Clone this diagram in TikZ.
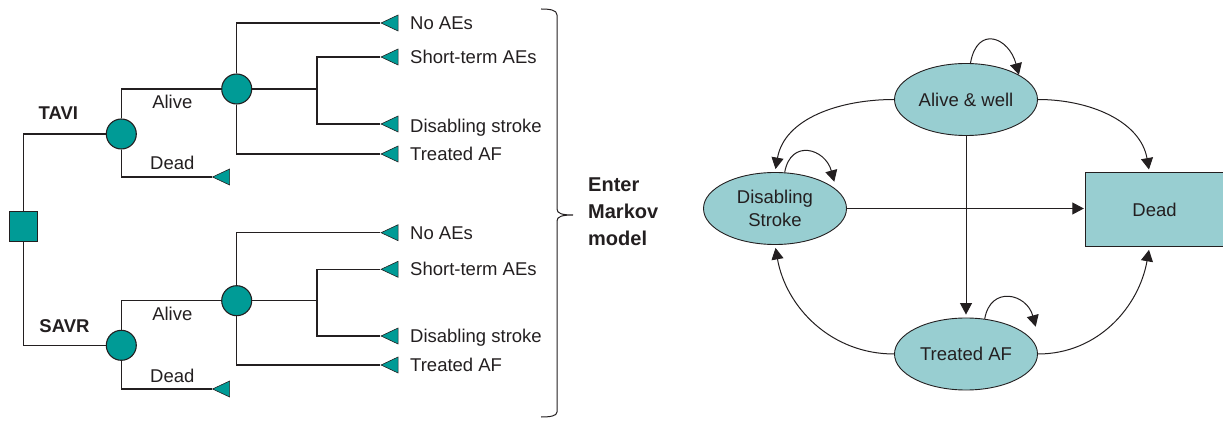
\documentclass[tikz,border=0pt]{standalone}
\usepackage{fontspec}
\setmainfont{Liberation Sans}
\usetikzlibrary{shapes.geometric,arrows.meta}
\definecolor{treeteal}{RGB}{0,155,150}
\definecolor{stfill}{RGB}{152,206,209}
\definecolor{ink}{RGB}{35,31,32}
\begin{document}
\begin{tikzpicture}[x=1pt,y=1pt,
  every node/.style={font=\fontsize{18.5}{22}\selectfont, text=ink},
  tline/.style={draw=ink, line width=1.1pt},
  chance/.style={circle, draw=ink, fill=treeteal, line width=1.1pt, minimum size=30pt, inner sep=0pt},
  decision/.style={rectangle, draw=ink, fill=treeteal, line width=1.1pt, minimum width=28pt, minimum height=30pt, inner sep=0pt},
  term/.style={isosceles triangle, shape border rotate=180, isosceles triangle stretches, minimum width=16pt, minimum height=17pt, inner sep=0pt, fill=treeteal, draw=ink, line width=0.6pt},
  lbl/.style={anchor=base west, inner sep=0pt},
  blbl/.style={anchor=base, inner sep=0pt},
  state/.style={ellipse, draw=ink, fill=stfill, line width=0.9pt, minimum width=143pt, minimum height=72pt, inner sep=0pt, align=center, font=\fontsize{18.5}{23.5}\selectfont},
  deadbox/.style={rectangle, fill=stfill, minimum width=137pt, minimum height=74pt, inner sep=0pt},
  arr/.style={draw=ink, line width=1pt, -{Triangle[length=11.5pt,width=12pt]}}
]
\useasboundingbox (0,0) rectangle (1223,423);

% ---------- decision tree ----------
\node[decision] (root) at (23.5,196.3) {};
\node[chance] (tavi) at (121.3,289) {};
\node[chance] (savr) at (121.3,77.7) {};
\node[chance] (ca) at (236.7,334) {};
\node[chance] (cb) at (236.7,122.3) {};
\node[term] (tdead) at (224.5,246) {};
\node[term] (sdead) at (224.5,34) {};
\node[term] (ta1) at (393,400) {};
\node[term] (ta2) at (393,366) {};
\node[term] (ta3) at (393,299) {};
\node[term] (ta4) at (393,269) {};
\node[term] (tb1) at (393,190.3) {};
\node[term] (tb2) at (393,153.7) {};
\node[term] (tb3) at (393,87) {};
\node[term] (tb4) at (393,58) {};
\coordinate (ja) at (317,334);
\coordinate (jb) at (317,122.3);

\draw[tline] (root) |- (tavi);
\draw[tline] (root) |- (savr);
\draw[tline] (tavi) |- (ca);
\draw[tline] (tavi) |- (tdead.apex);
\draw[tline] (savr) |- (cb);
\draw[tline] (savr) |- (sdead.apex);
\draw[tline] (ca) |- (ta1.apex);
\draw[tline] (ca) |- (ta4.apex);
\draw[tline] (ca) -- (ja);
\draw[tline] (ja) |- (ta2.apex);
\draw[tline] (ja) |- (ta3.apex);
\draw[tline] (cb) |- (tb1.apex);
\draw[tline] (cb) |- (tb4.apex);
\draw[tline] (cb) -- (jb);
\draw[tline] (jb) |- (tb2.apex);
\draw[tline] (jb) |- (tb3.apex);

\node[blbl, font=\fontsize{18.5}{22}\selectfont\bfseries] (ltavi) at (58.3,303.8) {TAVI};
\node[blbl, font=\fontsize{18.5}{22}\selectfont\bfseries] (lsavr) at (64.5,90.5) {SAVR};
\node[blbl] (la1) at (172.3,314.8) {Alive};
\node[blbl] (ld1) at (172.3,253.8) {Dead};
\node[blbl] (la2) at (172.3,102.2) {Alive};
\node[blbl] (ld2) at (172.3,40.8) {Dead};

\node[lbl] (lta1) at (410,393.5) {No AEs};
\node[lbl] (lta2) at (410,359.5) {Short-term AEs};
\node[lbl] (lta3) at (410,290.5) {Disabling stroke};
\node[lbl] (lta4) at (410,262.5) {Treated AF};
\node[lbl] (ltb1) at (410,183.8) {No AEs};
\node[lbl] (ltb2) at (410,147.2) {Short-term AEs};
\node[lbl] (ltb3) at (410,80.5) {Disabling stroke};
\node[lbl] (ltb4) at (410,51.5) {Treated AF};

% brace
\draw[draw=ink, line width=1pt] (541,414) .. controls (550,414) and (557,413) .. (557,408) -- (557,214)
  .. controls (557,209.5) and (562,208) .. (573,208)
  .. controls (562,208) and (557,206.5) .. (557,202) -- (557,11)
  .. controls (557,7) and (550,6) .. (541,6);
\node[anchor=west, align=left, inner sep=0pt, font=\fontsize{20}{27}\selectfont\bfseries] (enter) at (588,211.5) {Enter\\Markov\\model};

% ---------- Markov model ----------
\node[state] (aw) at (966,323.5) {Alive \& well};
\node[state] (ds) at (775,214.5) {Disabling\\Stroke};
\node[state] (ta) at (966,69) {Treated AF};
\node[deadbox] (dead) at (1154.5,213.3) {Dead};
\draw[draw=ink, line width=0.9pt] (dead.north east) -| (dead.south west) -- (dead.south east);

\draw[arr, shorten >=3pt] (aw.west) to[out=180,in=80] (ds.north);
\draw[arr, shorten >=3pt] (aw.east) to[out=0,in=100] ([xshift=-5pt]dead.north);
\draw[arr, shorten >=3pt] (aw.south) -- (ta.north);
\draw[arr, shorten >=2pt] (ds.east) -- (ds.east -| dead.west);
\draw[arr, shorten >=3pt] (ta.west) to[out=180,in=-80] (ds.south);
\draw[arr, shorten >=3pt] (ta.east) to[out=0,in=-100] ([xshift=-5pt]dead.south);

\coordinate (taloop) at ([shift={(69.7,27.3)}]ta.center);
\draw[arr] (aw.83) to[out=80,in=105,looseness=2.0] (aw.25);
\draw[arr] (ds.75) to[out=80,in=105,looseness=1.75] ([shift={(3pt,4pt)}]ds.22);
\draw[arr] (ta.62) to[out=80,in=105,looseness=1.7] (taloop);
\end{tikzpicture}
\end{document}
